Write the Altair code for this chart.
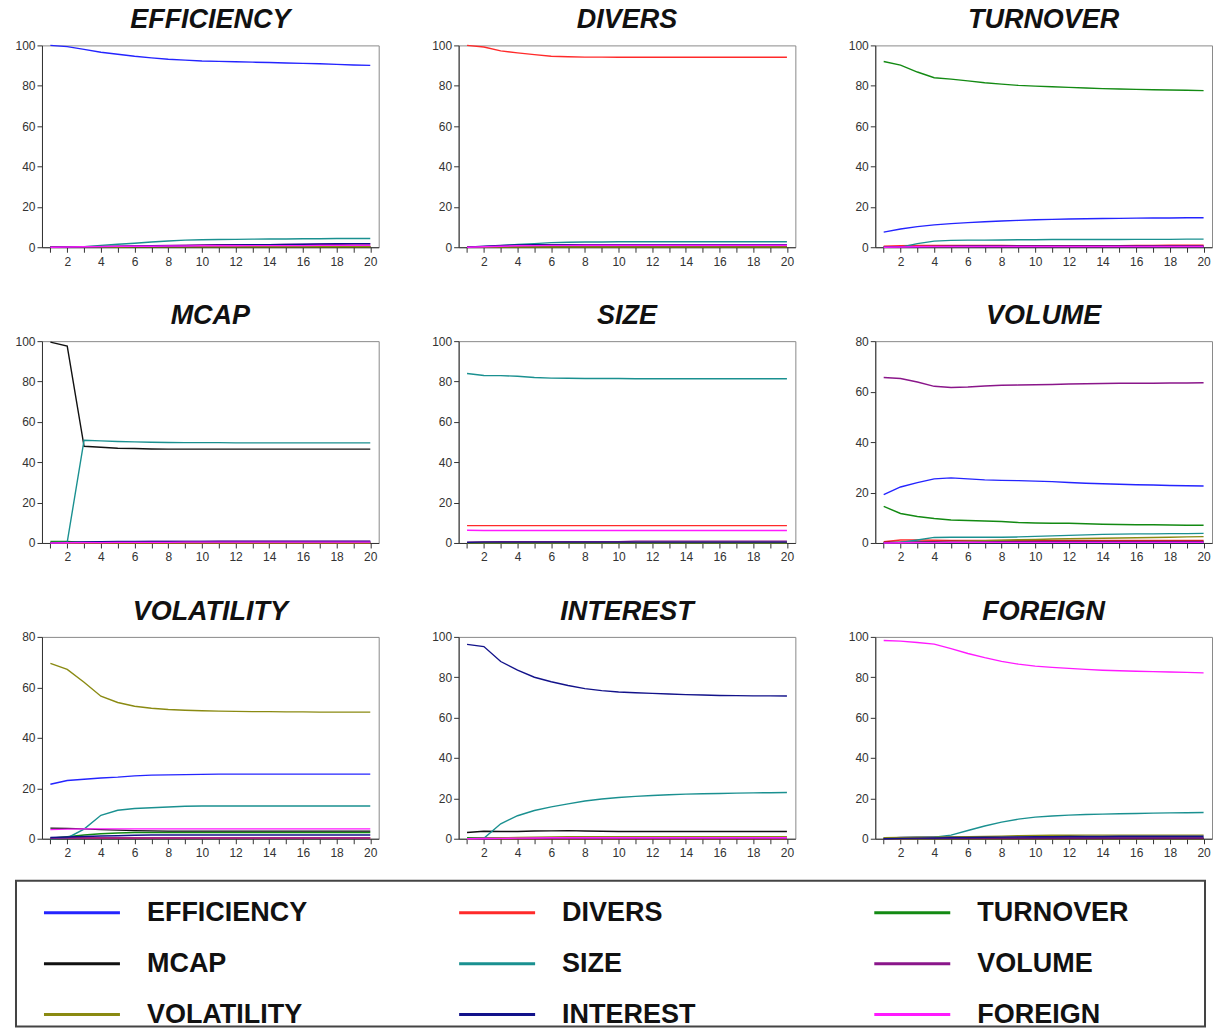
import altair as alt
import pandas as pd

series_names = ["EFFICIENCY", "DIVERS", "TURNOVER", "MCAP", "SIZE",
                "VOLUME", "VOLATILITY", "INTEREST", "FOREIGN"]
series_colors = ["#2424ff", "#ff2a2a", "#138a13", "#111111", "#1a9090",
                 "#8a168a", "#8a8a12", "#12128a", "#ff1aff"]
periods = list(range(1, 21))

panel_titles = ["EFFICIENCY", "DIVERS", "TURNOVER", "MCAP", "SIZE",
                "VOLUME", "VOLATILITY", "INTEREST", "FOREIGN"]
panel_ymax = [100, 100, 100, 100, 100, 80, 80, 100, 100]

efficiency_panel = {
    "EFFICIENCY": [100, 99.4, 98.0, 96.6, 95.6, 94.6, 93.8, 93.1, 92.7, 92.3, 92.1, 91.9, 91.7, 91.5, 91.3, 91.1, 90.9, 90.6, 90.3, 90.1],
    "DIVERS":     [0, 0.1, 0.2, 0.3, 0.3, 0.4, 0.4, 0.4, 0.5, 0.5, 0.5, 0.5, 0.5, 0.5, 0.5, 0.5, 0.5, 0.5, 0.5, 0.5],
    "TURNOVER":   [0, 0.1, 0.2, 0.3, 0.3, 0.3, 0.3, 0.3, 0.3, 0.3, 0.3, 0.3, 0.3, 0.3, 0.3, 0.3, 0.3, 0.3, 0.3, 0.3],
    "MCAP":       [0, 0, 0.1, 0.1, 0.2, 0.2, 0.2, 0.2, 0.2, 0.2, 0.2, 0.2, 0.2, 0.2, 0.2, 0.2, 0.2, 0.2, 0.2, 0.2],
    "SIZE":       [0, 0, 0.3, 0.9, 1.5, 2.0, 2.6, 3.1, 3.5, 3.7, 3.8, 3.9, 4.0, 4.1, 4.1, 4.2, 4.2, 4.3, 4.3, 4.3],
    "VOLUME":     [0, 0.1, 0.2, 0.4, 0.5, 0.6, 0.8, 0.9, 1.0, 1.1, 1.2, 1.2, 1.3, 1.3, 1.4, 1.4, 1.5, 1.5, 1.6, 1.6],
    "VOLATILITY": [0, 0, 0.1, 0.1, 0.1, 0.2, 0.2, 0.2, 0.2, 0.2, 0.2, 0.2, 0.2, 0.2, 0.2, 0.2, 0.2, 0.2, 0.2, 0.2],
    "INTEREST":   [0, 0.1, 0.2, 0.3, 0.4, 0.5, 0.6, 0.7, 0.8, 0.9, 1.0, 1.1, 1.2, 1.3, 1.4, 1.5, 1.6, 1.7, 1.8, 1.8],
    "FOREIGN":    [0, 0.1, 0.2, 0.3, 0.4, 0.5, 0.5, 0.6, 0.6, 0.7, 0.7, 0.7, 0.8, 0.8, 0.8, 0.8, 0.9, 0.9, 0.9, 0.9],
}

divers_panel = {
    "EFFICIENCY": [0, 0.1, 0.2, 0.3, 0.3, 0.3, 0.3, 0.3, 0.3, 0.3, 0.3, 0.3, 0.3, 0.3, 0.3, 0.3, 0.3, 0.3, 0.3, 0.3],
    "DIVERS":     [100, 99.2, 97.3, 96.3, 95.4, 94.6, 94.4, 94.2, 94.2, 94.1, 94.1, 94.1, 94.1, 94.1, 94.1, 94.1, 94.1, 94.1, 94.1, 94.1],
    "TURNOVER":   [0, 0.1, 0.1, 0.1, 0.2, 0.2, 0.2, 0.2, 0.2, 0.2, 0.2, 0.2, 0.2, 0.2, 0.2, 0.2, 0.2, 0.2, 0.2, 0.2],
    "MCAP":       [0, 0.1, 0.1, 0.1, 0.1, 0.1, 0.1, 0.1, 0.1, 0.1, 0.1, 0.1, 0.1, 0.1, 0.1, 0.1, 0.1, 0.1, 0.1, 0.1],
    "SIZE":       [0, 0.3, 0.8, 1.4, 1.8, 2.3, 2.5, 2.6, 2.6, 2.7, 2.7, 2.7, 2.7, 2.7, 2.7, 2.7, 2.7, 2.7, 2.7, 2.7],
    "VOLUME":     [0, 0.2, 0.3, 0.4, 0.5, 0.5, 0.5, 0.5, 0.5, 0.5, 0.5, 0.5, 0.5, 0.5, 0.5, 0.5, 0.5, 0.5, 0.5, 0.5],
    "VOLATILITY": [0, 0.1, 0.1, 0.1, 0.1, 0.1, 0.1, 0.1, 0.1, 0.1, 0.1, 0.1, 0.1, 0.1, 0.1, 0.1, 0.1, 0.1, 0.1, 0.1],
    "INTEREST":   [0, 0.5, 0.9, 1.1, 1.2, 1.2, 1.2, 1.2, 1.2, 1.2, 1.2, 1.2, 1.2, 1.2, 1.2, 1.2, 1.2, 1.2, 1.2, 1.2],
    "FOREIGN":    [0, 0.2, 0.5, 0.7, 0.8, 0.9, 0.9, 1.0, 1.0, 1.0, 1.0, 1.0, 1.0, 1.0, 1.0, 1.0, 1.0, 1.0, 1.0, 1.0],
}

turnover_panel = {
    "EFFICIENCY": [7.5, 9.0, 10.2, 11.1, 11.7, 12.2, 12.6, 13.0, 13.3, 13.6, 13.8, 14.0, 14.1, 14.2, 14.3, 14.4, 14.5, 14.5, 14.6, 14.6],
    "DIVERS":     [0.5, 0.8, 0.9, 0.9, 0.9, 0.9, 0.9, 0.9, 0.8, 0.8, 0.8, 0.8, 0.8, 0.8, 0.8, 0.9, 0.9, 1.0, 1.0, 1.0],
    "TURNOVER":   [92.0, 90.2, 86.8, 84.0, 83.3, 82.4, 81.5, 80.8, 80.2, 79.8, 79.5, 79.2, 78.9, 78.6, 78.4, 78.2, 78.0, 77.9, 77.8, 77.6],
    "MCAP":       [0, 0, 0.1, 0.1, 0.1, 0.1, 0.1, 0.1, 0.1, 0.1, 0.1, 0.1, 0.1, 0.1, 0.1, 0.1, 0.1, 0.1, 0.1, 0.1],
    "SIZE":       [0, 0, 1.8, 3.0, 3.4, 3.5, 3.5, 3.6, 3.7, 3.7, 3.8, 3.8, 3.8, 3.8, 3.8, 3.9, 3.9, 3.9, 4.0, 4.0],
    "VOLUME":     [0, 0.2, 0.4, 0.5, 0.6, 0.7, 0.7, 0.7, 0.7, 0.7, 0.8, 0.8, 0.8, 0.8, 0.8, 0.8, 0.8, 0.8, 0.8, 0.8],
    "VOLATILITY": [0, 0, 0.1, 0.1, 0.1, 0.1, 0.2, 0.2, 0.2, 0.2, 0.2, 0.2, 0.2, 0.2, 0.2, 0.2, 0.2, 0.2, 0.2, 0.2],
    "INTEREST":   [0, 0.1, 0.1, 0.2, 0.2, 0.2, 0.2, 0.2, 0.2, 0.2, 0.2, 0.2, 0.2, 0.2, 0.2, 0.2, 0.2, 0.2, 0.2, 0.2],
    "FOREIGN":    [0, 0.1, 0.2, 0.3, 0.3, 0.3, 0.3, 0.3, 0.3, 0.3, 0.3, 0.3, 0.3, 0.3, 0.3, 0.3, 0.3, 0.3, 0.3, 0.3],
}

mcap_panel = {
    "EFFICIENCY": [0, 0.3, 0.3, 0.3, 0.3, 0.3, 0.3, 0.3, 0.3, 0.3, 0.3, 0.3, 0.3, 0.3, 0.3, 0.3, 0.3, 0.3, 0.3, 0.3],
    "DIVERS":     [0, 0.1, 0.1, 0.1, 0.1, 0.1, 0.1, 0.1, 0.1, 0.1, 0.1, 0.1, 0.1, 0.1, 0.1, 0.1, 0.1, 0.1, 0.1, 0.1],
    "TURNOVER":   [0.8, 0.8, 0.3, 0.3, 0.3, 0.3, 0.3, 0.3, 0.3, 0.3, 0.3, 0.3, 0.3, 0.3, 0.3, 0.3, 0.3, 0.3, 0.3, 0.3],
    "MCAP":       [99.5, 97.5, 47.9, 47.4, 46.9, 46.8, 46.6, 46.5, 46.5, 46.5, 46.5, 46.5, 46.5, 46.5, 46.5, 46.5, 46.5, 46.5, 46.5, 46.5],
    "SIZE":       [0.2, 0.4, 50.9, 50.6, 50.3, 50.1, 49.9, 49.8, 49.7, 49.7, 49.7, 49.6, 49.6, 49.6, 49.6, 49.6, 49.6, 49.6, 49.6, 49.6],
    "VOLUME":     [0, 0.2, 0.3, 0.4, 0.5, 0.6, 0.7, 0.8, 0.8, 0.8, 0.9, 0.9, 0.9, 0.9, 0.9, 0.9, 0.9, 0.9, 0.9, 0.9],
    "VOLATILITY": [0, 0.1, 0.1, 0.1, 0.1, 0.1, 0.1, 0.1, 0.1, 0.1, 0.1, 0.1, 0.1, 0.1, 0.1, 0.1, 0.1, 0.1, 0.1, 0.1],
    "INTEREST":   [0, 0.3, 0.5, 0.6, 0.7, 0.8, 0.8, 0.7, 0.7, 0.7, 0.7, 0.7, 0.7, 0.7, 0.7, 0.7, 0.7, 0.7, 0.7, 0.7],
    "FOREIGN":    [0, 0.1, 0.2, 0.2, 0.3, 0.3, 0.3, 0.3, 0.4, 0.4, 0.4, 0.4, 0.4, 0.4, 0.4, 0.4, 0.4, 0.4, 0.4, 0.4],
}

size_panel = {
    "EFFICIENCY": [0.1, 0.2, 0.2, 0.2, 0.2, 0.2, 0.2, 0.2, 0.2, 0.2, 0.2, 0.2, 0.2, 0.2, 0.2, 0.2, 0.2, 0.2, 0.2, 0.2],
    "DIVERS":     [8.6, 8.6, 8.6, 8.6, 8.6, 8.6, 8.6, 8.6, 8.6, 8.6, 8.6, 8.6, 8.6, 8.6, 8.6, 8.6, 8.6, 8.6, 8.6, 8.6],
    "TURNOVER":   [0.1, 0.1, 0.1, 0.1, 0.1, 0.1, 0.1, 0.1, 0.1, 0.1, 0.1, 0.1, 0.1, 0.1, 0.1, 0.1, 0.1, 0.1, 0.1, 0.1],
    "MCAP":       [0.2, 0.3, 0.3, 0.3, 0.3, 0.3, 0.3, 0.3, 0.3, 0.3, 0.3, 0.3, 0.3, 0.3, 0.3, 0.3, 0.3, 0.3, 0.3, 0.3],
    "SIZE":       [84.0, 83.0, 82.9, 82.6, 82.0, 81.7, 81.6, 81.5, 81.5, 81.5, 81.4, 81.4, 81.4, 81.4, 81.4, 81.4, 81.4, 81.4, 81.4, 81.4],
    "VOLUME":     [0.4, 0.5, 0.6, 0.6, 0.6, 0.6, 0.6, 0.6, 0.6, 0.6, 0.9, 0.9, 0.9, 0.9, 0.9, 0.9, 0.9, 0.9, 0.9, 0.9],
    "VOLATILITY": [0.1, 0.1, 0.1, 0.1, 0.1, 0.1, 0.1, 0.1, 0.1, 0.1, 0.1, 0.1, 0.1, 0.1, 0.1, 0.1, 0.1, 0.1, 0.1, 0.1],
    "INTEREST":   [0.3, 0.4, 0.4, 0.4, 0.4, 0.4, 0.4, 0.4, 0.4, 0.4, 0.4, 0.4, 0.4, 0.4, 0.4, 0.4, 0.4, 0.4, 0.4, 0.4],
    "FOREIGN":    [6.3, 6.2, 6.2, 6.2, 6.2, 6.2, 6.2, 6.2, 6.2, 6.2, 6.2, 6.2, 6.2, 6.2, 6.2, 6.2, 6.2, 6.2, 6.2, 6.2],
}

volume_panel = {
    "EFFICIENCY": [19.2, 22.2, 23.9, 25.4, 25.8, 25.4, 25.0, 24.8, 24.7, 24.5, 24.3, 24.0, 23.7, 23.5, 23.3, 23.1, 23.0, 22.8, 22.7, 22.6],
    "DIVERS":     [0.5, 1.2, 1.2, 1.1, 1.0, 1.0, 1.0, 1.0, 1.0, 1.0, 1.0, 1.0, 1.0, 1.0, 1.0, 1.0, 1.0, 1.0, 1.0, 1.0],
    "TURNOVER":   [14.5, 11.7, 10.5, 9.7, 9.1, 8.9, 8.7, 8.5, 8.1, 7.9, 7.8, 7.8, 7.6, 7.4, 7.3, 7.2, 7.2, 7.1, 7.0, 7.0],
    "MCAP":       [0.2, 0.3, 0.4, 0.5, 0.6, 0.6, 0.6, 0.6, 0.6, 0.6, 0.6, 0.6, 0.6, 0.6, 0.6, 0.6, 0.6, 0.6, 0.6, 0.6],
    "SIZE":       [0, 0.2, 1.2, 2.2, 2.3, 2.3, 2.3, 2.3, 2.4, 2.6, 2.8, 3.0, 3.2, 3.4, 3.5, 3.6, 3.6, 3.7, 3.7, 3.8],
    "VOLUME":     [65.6, 65.2, 63.8, 62.1, 61.6, 61.8, 62.2, 62.5, 62.6, 62.7, 62.8, 63.0, 63.1, 63.2, 63.3, 63.3, 63.3, 63.4, 63.4, 63.5],
    "VOLATILITY": [0, 0, 0.1, 0.3, 0.5, 0.7, 0.9, 1.1, 1.3, 1.4, 1.6, 1.7, 1.8, 1.9, 2.0, 2.1, 2.2, 2.3, 2.4, 2.5],
    "INTEREST":   [0, 0.1, 0.1, 0.2, 0.2, 0.2, 0.2, 0.2, 0.2, 0.2, 0.2, 0.2, 0.2, 0.2, 0.2, 0.2, 0.2, 0.2, 0.2, 0.2],
    "FOREIGN":    [0, 0.1, 0.2, 0.2, 0.3, 0.3, 0.3, 0.3, 0.3, 0.3, 0.3, 0.3, 0.3, 0.3, 0.3, 0.3, 0.3, 0.3, 0.3, 0.3],
}

volatility_panel = {
    "EFFICIENCY": [21.6, 23.1, 23.6, 24.1, 24.4, 24.9, 25.2, 25.3, 25.4, 25.5, 25.6, 25.6, 25.6, 25.6, 25.6, 25.6, 25.6, 25.6, 25.6, 25.6],
    "DIVERS":     [0.2, 0.3, 0.3, 0.3, 0.3, 0.3, 0.3, 0.3, 0.3, 0.3, 0.3, 0.3, 0.3, 0.3, 0.3, 0.3, 0.3, 0.3, 0.3, 0.3],
    "TURNOVER":   [0.2, 0.8, 1.5, 2.0, 2.3, 2.5, 2.5, 2.5, 2.5, 2.5, 2.5, 2.5, 2.5, 2.5, 2.5, 2.5, 2.5, 2.5, 2.5, 2.5],
    "MCAP":       [4.2, 4.1, 3.9, 3.6, 3.4, 3.2, 3.1, 3.0, 3.0, 3.0, 3.0, 3.0, 3.0, 3.0, 3.0, 3.0, 3.0, 3.0, 3.0, 3.0],
    "SIZE":       [0, 0.3, 3.8, 9.3, 11.3, 12.0, 12.3, 12.6, 12.9, 13.0, 13.0, 13.0, 13.0, 13.0, 13.0, 13.0, 13.0, 13.0, 13.0, 13.0],
    "VOLUME":     [0.2, 0.3, 0.3, 0.3, 0.3, 0.3, 0.3, 0.3, 0.3, 0.3, 0.3, 0.3, 0.3, 0.3, 0.3, 0.3, 0.3, 0.3, 0.3, 0.3],
    "VOLATILITY": [69.5, 67.1, 62.0, 56.5, 54.0, 52.5, 51.7, 51.2, 50.9, 50.7, 50.6, 50.5, 50.4, 50.4, 50.3, 50.3, 50.2, 50.2, 50.2, 50.2],
    "INTEREST":   [0.5, 0.7, 0.9, 1.1, 1.2, 1.4, 1.5, 1.5, 1.5, 1.5, 1.5, 1.5, 1.5, 1.5, 1.5, 1.5, 1.5, 1.5, 1.5, 1.5],
    "FOREIGN":    [3.6, 3.8, 3.9, 3.9, 3.9, 3.9, 3.9, 3.9, 3.9, 3.9, 3.9, 3.9, 3.9, 3.9, 3.9, 3.9, 3.9, 3.9, 3.9, 3.9],
}

interest_panel = {
    "EFFICIENCY": [0, 0.1, 0.2, 0.3, 0.3, 0.3, 0.3, 0.3, 0.3, 0.3, 0.3, 0.3, 0.3, 0.3, 0.3, 0.3, 0.3, 0.3, 0.3, 0.3],
    "DIVERS":     [0, 0.1, 0.1, 0.1, 0.1, 0.1, 0.1, 0.1, 0.1, 0.1, 0.1, 0.1, 0.1, 0.1, 0.1, 0.1, 0.1, 0.1, 0.1, 0.1],
    "TURNOVER":   [0.5, 0.4, 0.3, 0.3, 0.3, 0.3, 0.3, 0.3, 0.3, 0.3, 0.3, 0.3, 0.3, 0.3, 0.3, 0.3, 0.3, 0.3, 0.3, 0.3],
    "MCAP":       [3.1, 3.7, 3.6, 3.6, 3.8, 3.9, 4.0, 3.8, 3.7, 3.6, 3.6, 3.6, 3.6, 3.6, 3.6, 3.6, 3.6, 3.6, 3.6, 3.6],
    "SIZE":       [0, 0.2, 7.4, 11.4, 14.0, 15.8, 17.3, 18.7, 19.7, 20.4, 21.0, 21.4, 21.8, 22.1, 22.3, 22.4, 22.6, 22.7, 22.8, 22.9],
    "VOLUME":     [0, 0.1, 0.2, 0.3, 0.3, 0.3, 0.3, 0.3, 0.3, 0.3, 0.3, 0.3, 0.3, 0.3, 0.3, 0.3, 0.3, 0.3, 0.3, 0.3],
    "VOLATILITY": [0, 0.2, 0.4, 0.6, 0.8, 0.9, 1.0, 1.0, 1.0, 1.0, 1.0, 1.0, 1.0, 1.0, 1.0, 1.0, 1.0, 1.0, 1.0, 1.0],
    "INTEREST":   [96.3, 95.2, 87.8, 83.5, 80.0, 77.8, 75.9, 74.4, 73.4, 72.7, 72.3, 72.0, 71.7, 71.4, 71.2, 71.0, 70.9, 70.8, 70.8, 70.7],
    "FOREIGN":    [0, 0.1, 0.2, 0.3, 0.4, 0.5, 0.5, 0.5, 0.5, 0.5, 0.5, 0.5, 0.5, 0.5, 0.5, 0.5, 0.5, 0.5, 0.5, 0.5],
}

foreign_panel = {
    "EFFICIENCY": [0.2, 0.6, 0.8, 0.9, 1.0, 1.0, 0.9, 0.8, 0.8, 0.7, 0.7, 0.7, 0.7, 0.6, 0.6, 0.6, 0.6, 0.6, 0.6, 0.6],
    "DIVERS":     [0.1, 0.1, 0.1, 0.1, 0.1, 0.1, 0.1, 0.1, 0.1, 0.1, 0.1, 0.1, 0.1, 0.1, 0.1, 0.1, 0.1, 0.1, 0.1, 0.1],
    "TURNOVER":   [0.1, 0.1, 0.1, 0.1, 0.1, 0.1, 0.1, 0.1, 0.1, 0.1, 0.1, 0.1, 0.1, 0.1, 0.1, 0.1, 0.1, 0.1, 0.1, 0.1],
    "MCAP":       [0.2, 0.2, 0.2, 0.2, 0.2, 0.2, 0.2, 0.2, 0.2, 0.2, 0.2, 0.2, 0.2, 0.2, 0.2, 0.2, 0.2, 0.2, 0.2, 0.2],
    "SIZE":       [0.3, 0.5, 0.6, 0.8, 1.8, 4.1, 6.3, 8.2, 9.7, 10.7, 11.3, 11.7, 12.0, 12.2, 12.4, 12.5, 12.7, 12.8, 12.9, 13.0],
    "VOLUME":     [0.1, 0.1, 0.2, 0.2, 0.2, 0.3, 0.3, 0.3, 0.3, 0.3, 0.3, 0.3, 0.3, 0.3, 0.3, 0.3, 0.3, 0.3, 0.3, 0.3],
    "VOLATILITY": [0.5, 0.6, 0.7, 0.8, 0.9, 1.0, 1.1, 1.3, 1.5, 1.6, 1.7, 1.7, 1.8, 1.8, 1.8, 1.8, 1.8, 1.8, 1.8, 1.8],
    "INTEREST":   [0, 0.2, 0.3, 0.4, 0.5, 0.6, 0.7, 0.8, 0.9, 1.0, 1.0, 1.1, 1.1, 1.1, 1.2, 1.2, 1.2, 1.2, 1.2, 1.2],
    "FOREIGN":    [98.2, 97.9, 97.2, 96.4, 94.2, 91.8, 89.7, 87.9, 86.5, 85.5, 84.9, 84.4, 83.9, 83.5, 83.2, 83.0, 82.8, 82.6, 82.4, 82.2],
}

panels = [efficiency_panel, divers_panel, turnover_panel, mcap_panel, size_panel,
          volume_panel, volatility_panel, interest_panel, foreign_panel]

records = []
for title, panel in zip(panel_titles, panels):
    for s in series_names:
        for p, v in zip(periods, panel[s]):
            records.append({"panel": title, "series": s, "period": p, "value": v})
df = pd.DataFrame(records)

color_scale = alt.Scale(domain=series_names, range=series_colors)
axis_col = "#333333"


def make_panel(title, ymax):
    d = df[df["panel"] == title]
    # a leading figure space keeps 2-digit axes as wide as 3-digit ones
    ylabel_expr = "datum.label" if ymax >= 100 else "'\u2007' + datum.label"
    return alt.Chart(d).mark_line(strokeWidth=1.4).encode(
        x=alt.X("period:Q",
                scale=alt.Scale(domain=[0.5, 20.5], nice=False, zero=False),
                axis=alt.Axis(values=periods, title=None, grid=False,
                              labelExpr="datum.value % 2 == 0 ? datum.label : ''",
                              labelFontSize=12, labelColor=axis_col, labelFont="Liberation Sans",
                              tickSize=5, tickColor=axis_col, domainColor=axis_col,
                              labelPadding=4, labelFlush=False)),
        y=alt.Y("value:Q",
                scale=alt.Scale(domain=[0, ymax], nice=False),
                axis=alt.Axis(values=list(range(0, ymax + 1, 20)), title=None, grid=False,
                              labelExpr=ylabel_expr,
                              labelFontSize=12, labelColor=axis_col, labelFont="Liberation Sans",
                              tickSize=5, tickColor=axis_col, domainColor=axis_col,
                              labelPadding=2, minExtent=27, maxExtent=27)),
        color=alt.Color("series:N", scale=color_scale, legend=None),
    ).properties(
        width=337, height=202,
        title=alt.TitleParams(title, fontSize=27, font="Liberation Sans", fontStyle="italic",
                              fontWeight="bold", color="#111111", offset=5),
    )


panel_charts = [make_panel(t, m) for t, m in zip(panel_titles, panel_ymax)]
rows = [alt.hconcat(*panel_charts[i:i + 3], spacing=51) for i in (0, 3, 6)]
panel_grid = alt.vconcat(*rows, spacing=33)

# an empty, invisible anchor so that the legend frame can start left of the plot areas
anchor = alt.Chart(pd.DataFrame({"v": [0]})).mark_text(text="", opacity=0).encode(
    x=alt.X("v:Q", axis=None), y=alt.Y("v:Q", axis=None),
).properties(width=1, height=1, view=alt.ViewBackground(strokeOpacity=0))
grid = alt.hconcat(anchor, panel_grid, spacing=25, bounds="flush")

legend_df = pd.DataFrame({"series": series_names, "idx": list(range(len(series_names)))})
leg_x = alt.Scale(domain=[-0.0674, 2.7966], nice=False, zero=False)
leg_y = alt.Scale(domain=[-0.627, 2.235], nice=False, zero=False, reverse=True)
leg_base = alt.Chart(legend_df).transform_calculate(
    col="datum.idx % 3",
    row="floor(datum.idx / 3)",
    x_end="datum.idx % 3 + 0.183",
    x_text="datum.idx % 3 + 0.248",
)
leg_lines = leg_base.mark_rule(strokeWidth=3).encode(
    x=alt.X("col:Q", scale=leg_x, axis=None),
    x2="x_end:Q",
    y=alt.Y("row:Q", scale=leg_y, axis=None),
    color=alt.Color("series:N", scale=color_scale, legend=None),
)
leg_text = leg_base.mark_text(align="left", baseline="middle", fontSize=27,
                              fontWeight="bold", font="Liberation Sans", color="#111111").encode(
    x=alt.X("x_text:Q", scale=leg_x, axis=None),
    y=alt.Y("row:Q", scale=leg_y, axis=None),
    text="series:N",
)
legend = alt.layer(leg_lines, leg_text).properties(
    width=1190, height=146,
    view=alt.ViewBackground(stroke="#444444", strokeWidth=2),
)

chart = alt.vconcat(grid, legend, spacing=20).properties(
    padding={"left": 6, "top": -3, "right": 0, "bottom": 0},
).configure_view(stroke="#8a8a8a", strokeWidth=1)

chart.save("out.html", embed_options={"renderer": "svg", "actions": False})
